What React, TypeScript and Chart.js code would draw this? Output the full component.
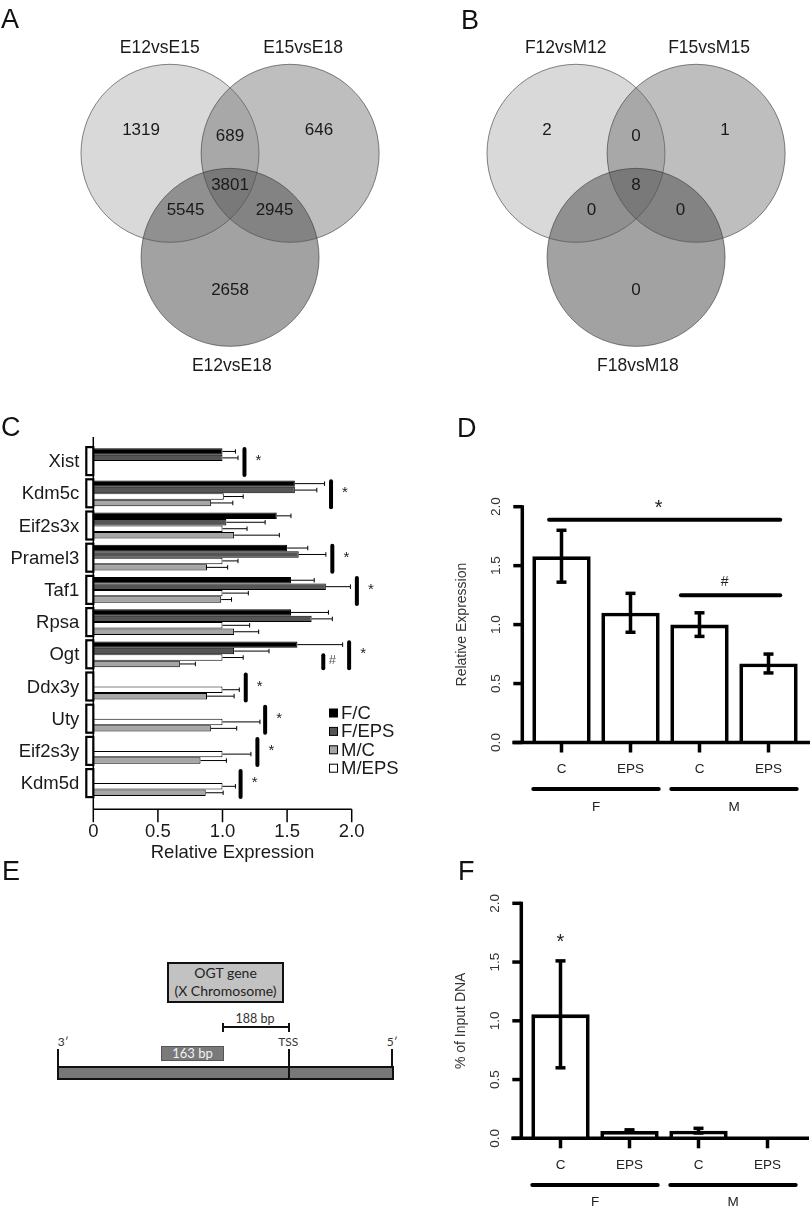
import React, { useEffect, useRef } from "react";
import { Chart, registerables } from "chart.js";

Chart.register(...registerables);

const FONT = "'Liberation Sans', Arial, Helvetica, sans-serif";
const EFONT = "Lato, 'Open Sans', 'Liberation Sans', sans-serif";

// ---------------- Panel A / B : Venn counts ----------------
// region order: only set1, only set2, only set3, 1&2, 1&3, 2&3, 1&2&3
const vennASets = ["E12vsE15", "E15vsE18", "E12vsE18"];
const vennACounts = [1319, 646, 2658, 689, 5545, 2945, 3801];
const vennBSets = ["F12vsM12", "F15vsM15", "F18vsM18"];
const vennBCounts = [2, 1, 0, 0, 0, 0, 8];

// ---------------- Panel C ----------------
const cGenes = ["Xist", "Kdm5c", "Eif2s3x", "Pramel3", "Taf1", "Rpsa", "Ogt", "Ddx3y", "Uty", "Eif2s3y", "Kdm5d"];
const cSeriesNames = ["F/C", "F/EPS", "M/EPS", "M/C"];
const cFC = [1.0, 1.56, 1.42, 1.5, 1.53, 1.53, 1.58, null, null, null, null];
const cFCErr = [0.1, 0.23, 0.11, 0.16, 0.18, 0.29, 0.35, null, null, null, null];
const cFEPS = [1.0, 1.56, 1.03, 1.59, 1.8, 1.69, 1.09, null, null, null, null];
const cFEPSErr = [0.12, 0.17, 0.3, 0.21, 0.19, 0.16, 0.27, null, null, null, null];
const cMEPS = [null, 1.01, 1.0, 1.0, 1.0, 1.0, 1.0, 1.0, 1.0, 1.0, 1.0];
const cMEPSErr = [null, 0.15, 0.19, 0.12, 0.2, 0.21, 0.16, 0.13, 0.29, 0.22, 0.1];
const cMC = [null, 0.91, 1.09, 0.88, 0.99, 1.09, 0.67, 0.88, 0.91, 0.83, 0.87];
const cMCErr = [null, 0.17, 0.35, 0.16, 0.08, 0.19, 0.12, 0.21, 0.2, 0.2, 0.135];
const cStar = [1.17, 1.84, null, 1.85, 2.04, null, 1.98, 1.18, 1.33, 1.27, 1.14];
const cHash = [null, null, null, null, null, null, 1.78, null, null, null, null];
const cTicks = [0, 0.5, 1.0, 1.5, 2.0];
const cTickLabels = ["0", "0.5", "1.0", "1.5", "2.0"];

// ---------------- Panel D ----------------
const dLabels = ["C", "EPS", "C", "EPS"];
const dGroups = ["F", "M"];
const dValues = [1.58, 1.1, 1.0, 0.67];
const dErr = [0.22, 0.165, 0.1, 0.08];
const dTicks = [0, 0.5, 1.0, 1.5, 2.0];
const dSig = [
  { from: -0.18, to: 3.17, value: 1.89, label: "*" },
  { from: 1.73, to: 3.17, value: 1.25, label: "#" },
];

// ---------------- Panel F ----------------
const fLabels = ["C", "EPS", "C", "EPS"];
const fGroups = ["F", "M"];
const fValues = [1.055, 0.062, 0.065, 0.003];
const fErr = [0.455, 0.01, 0.02, 0];
const fTicks = [0, 0.5, 1.0, 1.5, 2.0];
const fStars = [{ index: 0, value: 1.69, label: "*" }];

// ---------------- helpers ----------------
function seg(ctx: CanvasRenderingContext2D, x1: number, y1: number, x2: number, y2: number) {
  ctx.beginPath();
  ctx.moveTo(x1, y1);
  ctx.lineTo(x2, y2);
  ctx.stroke();
}
function txt(
  ctx: CanvasRenderingContext2D,
  s: string,
  x: number,
  y: number,
  font: string,
  color = "#111",
  align: CanvasTextAlign = "center",
  rot = 0
) {
  ctx.save();
  ctx.translate(x, y);
  if (rot) ctx.rotate(rot);
  ctx.font = font;
  ctx.fillStyle = color;
  ctx.textAlign = align;
  ctx.textBaseline = "middle";
  ctx.fillText(s, 0, 0);
  ctx.restore();
}

// ---------------- Venn ----------------
const VENN_SIDE = 1.35; // centre distance in radius units
const VENN_REGION_POS = [
  [-1.0, 0.65],
  [1.0, 0.65],
  [0, -1.15],
  [0, 0.58],
  [-0.5, -0.25],
  [0.5, -0.25],
  [0, 0.03],
];
const VENN_SET_POS = [
  [-0.79, 1.57],
  [0.82, 1.57],
  [0.02, -2.0],
];
const VENN_FILLS = ["rgba(120,120,120,0.28)", "rgba(100,100,100,0.42)", "rgba(80,80,80,0.53)"];

function vennConfig(sets: string[], counts: number[]): any {
  const h = (VENN_SIDE * Math.sqrt(3)) / 2;
  const centers = [
    [-VENN_SIDE / 2, h / 3],
    [VENN_SIDE / 2, h / 3],
    [0, (-2 * h) / 3],
  ];
  const unit = (c: any) => {
    const s = c.chart.scales.x;
    return s.getPixelForValue(1) - s.getPixelForValue(0);
  };
  return {
    type: "scatter",
    data: {
      datasets: [
        {
          data: centers.map(([x, y]) => ({ x, y })),
          backgroundColor: VENN_FILLS,
          borderColor: "rgba(40,40,40,0.55)",
          borderWidth: 1,
          pointRadius: unit,
          pointHoverRadius: unit,
          clip: false,
        },
      ],
    },
    options: {
      responsive: false,
      animation: false,
      events: [],
      layout: { padding: 0 },
      plugins: { legend: { display: false }, tooltip: { enabled: false } },
      scales: {
        x: { type: "linear", min: -2.585, max: 1.977, display: false },
        y: { type: "linear", min: -2.157, max: 2.112, display: false },
      },
    },
    plugins: [
      {
        id: "vennText",
        afterDatasetsDraw(chart: any) {
          const { ctx, scales } = chart;
          const { x, y } = scales;
          counts.forEach((n, i) => {
            const [px, py] = VENN_REGION_POS[i];
            txt(ctx, String(n), x.getPixelForValue(px), y.getPixelForValue(py), `17px ${FONT}`, "#1a1a1a");
          });
          sets.forEach((s, i) => {
            const [px, py] = VENN_SET_POS[i];
            txt(ctx, s, x.getPixelForValue(px), y.getPixelForValue(py), `17.5px ${FONT}`, "#1a1a1a");
          });
        },
      },
    ],
  };
}

// ---------------- Panel C ----------------
function cConfig(): any {
  const series = [cFC, cFEPS, cMEPS, cMC];
  const errs = [cFCErr, cFEPSErr, cMEPSErr, cMCErr];
  const colors = ["#000000", "#555555", "#ffffff", "#a6a6a6"];
  const legendOrder = [0, 1, 3, 2];
  return {
    type: "bar",
    data: {
      labels: cGenes,
      datasets: series.map((d, i) => ({
        label: cSeriesNames[i],
        data: d,
        backgroundColor: colors[i],
        borderColor: "#000",
        borderWidth: 1,
        categoryPercentage: 0.8,
        barPercentage: 1.0,
      })),
    },
    options: {
      indexAxis: "y",
      responsive: false,
      animation: false,
      events: [],
      layout: { padding: { left: 93.3, right: 78.3, top: 45, bottom: 70.8 } },
      plugins: { legend: { display: false }, tooltip: { enabled: false } },
      scales: {
        x: { type: "linear", min: 0, max: 2, display: false },
        y: { type: "category", offset: true, display: false },
      },
    },
    plugins: [
      {
        id: "cDecor",
        afterDraw(chart: any) {
          const { ctx, chartArea: a, scales } = chart;
          const { x, y } = scales;
          const x0 = x.getPixelForValue(0);
          const axisY = a.bottom + 10;
          const F = `18.5px ${FONT}`;
          ctx.save();
          ctx.strokeStyle = "#000";
          // error bars
          ctx.lineWidth = 1;
          series.forEach((arr, di) => {
            const meta = chart.getDatasetMeta(di);
            arr.forEach((v, i) => {
              const e = errs[di][i];
              if (v == null || e == null) return;
              const el: any = meta.data[i];
              const yc = el.y;
              const hh = el.height * 0.35;
              const xa = x.getPixelForValue(v);
              const xb = x.getPixelForValue(v + e);
              seg(ctx, xa, yc, xb, yc);
              seg(ctx, xb, yc - hh, xb, yc + hh);
            });
          });
          // axes
          ctx.lineWidth = 1.5;
          seg(ctx, x0, a.top - 8, x0, axisY);
          seg(ctx, x0, axisY, x.getPixelForValue(2), axisY);
          cTicks.forEach((t, i) => {
            const px = x.getPixelForValue(t);
            seg(ctx, px, axisY, px, axisY + 13);
            txt(ctx, cTickLabels[i], px, axisY + 23, F, "#1a1a1a");
          });
          txt(ctx, "Relative Expression", (x0 + x.getPixelForValue(2)) / 2 + 10, axisY + 44, F, "#1a1a1a");
          // gene labels, brackets, significance
          cGenes.forEach((g, i) => {
            const yc = y.getPixelForValue(i);
            txt(ctx, g, x0 - 14, yc + 1, F, "#1a1a1a", "right");
            ctx.fillStyle = "#fff";
            ctx.lineWidth = 2.2;
            ctx.fillRect(x0 - 7, yc - 14, 7, 28);
            ctx.strokeRect(x0 - 7, yc - 14, 7, 28);
            ctx.lineWidth = 4;
            ctx.lineCap = "round";
            const sx = cStar[i];
            if (sx != null) {
              const px = x.getPixelForValue(sx);
              seg(ctx, px, yc - 12, px, yc + 14);
              txt(ctx, "*", px + 14, yc, `15px ${FONT}`, "#222");
            }
            const hx = cHash[i];
            if (hx != null) {
              const px = x.getPixelForValue(hx);
              seg(ctx, px, yc + 1, px, yc + 14);
              txt(ctx, "#", px + 9, yc + 6, `13px ${FONT}`, "#555");
            }
            ctx.lineCap = "butt";
          });
          // legend
          legendOrder.forEach((di, k) => {
            const ly = 313 + k * 18.4;
            ctx.fillStyle = colors[di];
            ctx.lineWidth = 1;
            ctx.fillRect(329.5, ly - 4, 8, 8);
            ctx.strokeRect(329.5, ly - 4, 8, 8);
            txt(ctx, cSeriesNames[di], 341, ly + 1, F, "#1a1a1a", "left");
          });
          ctx.restore();
        },
      },
    ],
  };
}

// ---------------- Panels D / F ----------------
function dfConfig(
  labels: string[],
  groups: string[],
  values: number[],
  errs: number[],
  ticks: number[],
  title: string,
  padding: any,
  sig: any[],
  stars: any[]
): any {
  return {
    type: "bar",
    data: {
      labels,
      datasets: [
        {
          data: values,
          backgroundColor: "#ffffff",
          borderColor: "#000",
          borderWidth: 3.8,
          categoryPercentage: 1.0,
          barPercentage: 0.846,
        },
      ],
    },
    options: {
      responsive: false,
      animation: false,
      events: [],
      layout: { padding },
      plugins: { legend: { display: false }, tooltip: { enabled: false } },
      scales: {
        x: { type: "category", offset: true, display: false },
        y: { type: "linear", min: 0, max: 2, display: false },
      },
    },
    plugins: [
      {
        id: "dfDecor",
        afterDraw(chart: any) {
          const { ctx, chartArea: a, scales } = chart;
          const { x, y } = scales;
          const meta = chart.getDatasetMeta(0);
          const axisX = a.left - 4.7;
          const axisY = y.getPixelForValue(0);
          const TF = `13.5px ${FONT}`;
          ctx.save();
          ctx.strokeStyle = "#000";
          ctx.lineCap = "butt";
          // error bars
          ctx.lineWidth = 3.5;
          values.forEach((v, i) => {
            const e = errs[i];
            if (!e) return;
            const cx = meta.data[i].x;
            const yt = y.getPixelForValue(v + e);
            const yb = y.getPixelForValue(v - e);
            seg(ctx, cx, yt, cx, yb);
            seg(ctx, cx - 5, yt, cx + 5, yt);
            seg(ctx, cx - 5, yb, cx + 5, yb);
          });
          // y axis
          seg(ctx, axisX, y.getPixelForValue(ticks[ticks.length - 1]) - 1.5, axisX, axisY);
          ticks.forEach((t) => {
            const py = y.getPixelForValue(t);
            seg(ctx, axisX - 9, py, axisX, py);
            txt(ctx, t.toFixed(1), axisX - 25.6, py, TF, "#333", "center", -Math.PI / 2);
          });
          txt(
            ctx,
            title,
            axisX - 60.6,
            (y.getPixelForValue(0) + y.getPixelForValue(2)) / 2,
            `14px ${FONT}`,
            "#333",
            "center",
            -Math.PI / 2
          );
          // x axis
          seg(ctx, axisX - 10, axisY, a.right + 7, axisY);
          meta.data.forEach((el: any, i: number) => {
            seg(ctx, el.x, axisY, el.x, axisY + 10);
            txt(ctx, labels[i], el.x, axisY + 26.6, TF, "#222");
          });
          // groups
          ctx.lineWidth = 4;
          ctx.lineCap = "round";
          groups.forEach((g, gi) => {
            const e0: any = meta.data[gi * 2];
            const e1: any = meta.data[gi * 2 + 1];
            const l = e0.x - e0.width / 2 + 1;
            const r = e1.x + e1.width / 2 - 1;
            seg(ctx, l, axisY + 46.6, r, axisY + 46.6);
            txt(ctx, g, (l + r) / 2, axisY + 64.3, TF, "#222");
          });
          // significance
          sig.forEach((s) => {
            const l = x.getPixelForValue(s.from);
            const r = x.getPixelForValue(s.to);
            const py = y.getPixelForValue(s.value);
            seg(ctx, l, py, r, py);
            txt(
              ctx,
              s.label,
              (l + r) / 2 - 6,
              py - (s.label === "*" ? 11 : 13),
              s.label === "*" ? `20px ${FONT}` : `14px ${FONT}`,
              "#222"
            );
          });
          stars.forEach((s) => {
            const cx = meta.data[s.index].x;
            txt(ctx, s.label, cx, y.getPixelForValue(s.value) + 3, `20px ${FONT}`, "#222");
          });
          ctx.restore();
        },
      },
    ],
  };
}

function ChartBox(props: { make: () => any; left: number; top: number; width: number; height: number }) {
  const ref = useRef<HTMLCanvasElement | null>(null);
  useEffect(() => {
    const chart = new Chart(ref.current as HTMLCanvasElement, props.make());
    return () => chart.destroy();
  }, []);
  const { left, top, width, height } = props;
  return (
    <canvas
      ref={ref}
      width={width}
      height={height}
      style={{ position: "absolute", left, top, width, height, display: "block" }}
    />
  );
}

const abs = (l: number, t: number, extra: any = {}): any => ({ position: "absolute", left: l, top: t, ...extra });

function PanelLetter({ ch, left, base }: { ch: string; left: number; base: number }) {
  return (
    <div style={abs(left, base - 22, { fontFamily: FONT, fontSize: 27, lineHeight: "26px", color: "#111" })}>{ch}</div>
  );
}

function PanelE() {
  const small = { fontFamily: EFONT, fontSize: 12, color: "#333", lineHeight: "14px", whiteSpace: "nowrap" };
  return (
    <>
      <div
        style={abs(166.7, 961.7, {
          width: 117.6,
          height: 41,
          boxSizing: "border-box",
          border: "2px solid #111",
          background: "#c2c2c2",
          fontFamily: EFONT,
          fontSize: 14,
          color: "#222",
          textAlign: "center",
          lineHeight: "18.5px",
        })}
      >
        OGT gene
        <br />
        (X Chromosome)
      </div>
      {/* 188 bp bracket */}
      <div style={abs(223.3, 1026.3, { width: 66, height: 2, background: "#111" })} />
      <div style={abs(222.3, 1022.5, { width: 2, height: 9.5, background: "#111" })} />
      <div style={abs(288.3, 1022.5, { width: 2, height: 9.5, background: "#111" })} />
      <div style={abs(215, 1011, { ...small, width: 80, textAlign: "center", fontSize: 12.5, lineHeight: "16px" })}>188 bp</div>
      {/* end labels */}
      <div style={abs(43.3, 1034.7, { ...small, width: 40, textAlign: "center" })}>3′</div>
      <div style={abs(268.3, 1034.7, { ...small, width: 40, textAlign: "center" })}>TSS</div>
      <div style={abs(372.3, 1034.7, { ...small, width: 40, textAlign: "center" })}>5′</div>
      {/* vertical markers */}
      <div style={abs(57.3, 1049, { width: 2, height: 18, background: "#111" })} />
      <div style={abs(391.3, 1049, { width: 2, height: 18, background: "#111" })} />
      {/* main bar */}
      <div
        style={abs(57.3, 1066, {
          width: 336.4,
          height: 14,
          boxSizing: "border-box",
          border: "2px solid #111",
          background: "#787878",
        })}
      />
      <div style={abs(288.3, 1049, { width: 2, height: 31, background: "#111" })} />
      {/* 163 bp amplicon */}
      <div
        style={abs(160.7, 1045.7, {
          width: 63.6,
          height: 15,
          boxSizing: "border-box",
          border: "1px solid #555",
          background: "#7a7a7a",
          fontFamily: EFONT,
          fontSize: 13,
          lineHeight: "13px",
          color: "#f2f2f2",
          textAlign: "center",
          whiteSpace: "nowrap",
        })}
      >
        163 bp
      </div>
    </>
  );
}

export default function App() {
  return (
    <div style={{ position: "absolute", left: 0, top: 0, width: 812, height: 1212, background: "#fff", overflow: "hidden" }}>
      <ChartBox make={() => vennConfig(vennASets, vennACounts)} left={0} top={0} width={406} height={380} />
      <ChartBox make={() => vennConfig(vennBSets, vennBCounts)} left={406} top={0} width={406} height={380} />
      <ChartBox make={cConfig} left={0} top={400} width={430} height={470} />
      <ChartBox
        make={() =>
          dfConfig(dLabels, dGroups, dValues, dErr, dTicks, "Relative Expression", { left: 97, right: 9, top: 106.7, bottom: 77.5 }, dSig, [])
        }
        left={430}
        top={400}
        width={382}
        height={420}
      />
      <ChartBox
        make={() =>
          dfConfig(fLabels, fGroups, fValues, fErr, fTicks, "% of Input DNA", { left: 96, right: 10, top: 73.3, bottom: 73.7 }, [], fStars)
        }
        left={430}
        top={830}
        width={382}
        height={382}
      />
      <PanelE />
      <PanelLetter ch="A" left={1} base={28} />
      <PanelLetter ch="B" left={461} base={29} />
      <PanelLetter ch="C" left={1} base={436} />
      <PanelLetter ch="D" left={457} base={437} />
      <PanelLetter ch="E" left={2} base={880} />
      <PanelLetter ch="F" left={458} base={880} />
    </div>
  );
}
